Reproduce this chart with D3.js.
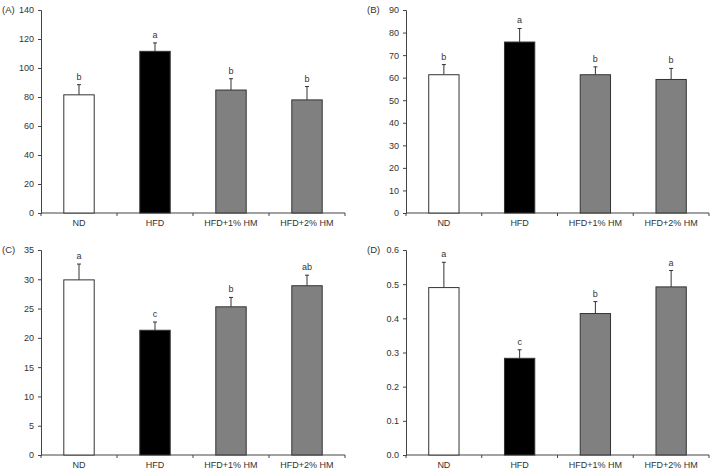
<!DOCTYPE html>
<html>
<head>
<meta charset="utf-8">
<script src="https://cdn.jsdelivr.net/npm/d3@7"></script>
<style>
  body { margin: 0; background: #fff; }
  text { font-family: "Liberation Sans", Arial, sans-serif; fill: #333; }
</style>
</head>
<body>
<script>
var width = 714,
    height = 476;

// data
var groups = ["ND", "HFD", "HFD+1% HM", "HFD+2% HM"];
var fills = ["#ffffff", "#000000", "#808080", "#808080"];

var meanA = [81.5, 111.5, 84.8, 78],
    errA  = [7, 5.8, 7.8, 9.2],
    letA  = ["b", "a", "b", "b"];
var meanB = [61.3, 75.8, 61.3, 59.2],
    errB  = [4.5, 6, 3.5, 4.9],
    letB  = ["b", "a", "b", "b"];
var meanC = [29.9, 21.3, 25.3, 28.9],
    errC  = [2.7, 1.4, 1.6, 1.8],
    letC  = ["a", "c", "b", "ab"];
var meanD = [0.49, 0.283, 0.414, 0.492],
    errD  = [0.074, 0.025, 0.035, 0.048],
    letD  = ["a", "c", "b", "a"];

var panels = [
  {label: "(A)", mean: meanA, err: errA, letters: letA, max: 140, step: 20, fmt: "d",
   left: 41, right: 345, top: 10, bottom: 213},
  {label: "(B)", mean: meanB, err: errB, letters: letB, max: 90, step: 10, fmt: "d",
   left: 406, right: 709, top: 10, bottom: 213},
  {label: "(C)", mean: meanC, err: errC, letters: letC, max: 35, step: 5, fmt: "d",
   left: 41, right: 345, top: 250, bottom: 455},
  {label: "(D)", mean: meanD, err: errD, letters: letD, max: 0.6, step: 0.1, fmt: ".1f",
   left: 406, right: 709, top: 250, bottom: 455}
];

var svg = d3.select("body").append("svg")
    .attr("width", width)
    .attr("height", height);

panels.forEach(function(p) {
  var g = svg.append("g");

  var x = d3.scaleBand()
      .domain(groups)
      .range([p.left, p.right])
      .paddingInner(0.6)
      .paddingOuter(0.3);

  var y = d3.scaleLinear()
      .domain([0, p.max])
      .range([p.bottom, p.top]);

  var ticks = d3.range(0, p.max + p.step / 2, p.step);

  // y axis
  var yAxis = g.append("g")
      .attr("transform", "translate(" + p.left + ",0)")
      .call(d3.axisLeft(y).tickValues(ticks).tickFormat(d3.format(p.fmt))
            .tickSizeOuter(0).tickSize(3).tickPadding(4));
  yAxis.select(".domain").attr("stroke", "#444");
  yAxis.selectAll("line").attr("stroke", "#444");
  yAxis.selectAll("text").style("font-size", "9px").attr("fill", "#333");

  // x axis: boundary ticks between categories
  var step = x.step();
  g.append("line")
      .attr("x1", p.left).attr("x2", p.right)
      .attr("y1", p.bottom).attr("y2", p.bottom)
      .attr("stroke", "#444");
  g.selectAll("line.xtick")
    .data(d3.range(groups.length + 1))
    .enter().append("line")
      .attr("class", "xtick")
      .attr("x1", function(i) { return p.left + i * step; })
      .attr("x2", function(i) { return p.left + i * step; })
      .attr("y1", p.bottom).attr("y2", p.bottom + 3)
      .attr("stroke", "#444");
  g.selectAll("text.xlab")
    .data(groups)
    .enter().append("text")
      .attr("class", "xlab")
      .attr("x", function(d) { return x(d) + x.bandwidth() / 2; })
      .attr("y", p.bottom + 13)
      .attr("text-anchor", "middle")
      .attr("fill", "#333")
      .style("font-size", "9px")
      .text(function(d) { return d; });

  // error bars (upper only)
  g.selectAll("line.err")
    .data(groups)
    .enter().append("line")
      .attr("class", "err")
      .attr("x1", function(d) { return x(d) + x.bandwidth() / 2; })
      .attr("x2", function(d) { return x(d) + x.bandwidth() / 2; })
      .attr("y1", function(d, i) { return y(p.mean[i]); })
      .attr("y2", function(d, i) { return y(p.mean[i] + p.err[i]); })
      .attr("stroke", "#333");
  g.selectAll("line.cap")
    .data(groups)
    .enter().append("line")
      .attr("class", "cap")
      .attr("x1", function(d) { return x(d) + x.bandwidth() / 2 - 2; })
      .attr("x2", function(d) { return x(d) + x.bandwidth() / 2 + 2; })
      .attr("y1", function(d, i) { return y(p.mean[i] + p.err[i]); })
      .attr("y2", function(d, i) { return y(p.mean[i] + p.err[i]); })
      .attr("stroke", "#333");

  // bars
  g.selectAll("rect.bar")
    .data(groups)
    .enter().append("rect")
      .attr("class", "bar")
      .attr("x", function(d) { return x(d); })
      .attr("width", x.bandwidth())
      .attr("y", function(d, i) { return y(p.mean[i]); })
      .attr("height", function(d, i) { return p.bottom - y(p.mean[i]); })
      .attr("fill", function(d, i) { return fills[i]; })
      .attr("stroke", "#333")
      .attr("stroke-width", 1);

  // significance letters
  g.selectAll("text.sig")
    .data(groups)
    .enter().append("text")
      .attr("class", "sig")
      .attr("x", function(d) { return x(d) + x.bandwidth() / 2; })
      .attr("y", function(d, i) { return y(p.mean[i] + p.err[i]) - 5; })
      .attr("text-anchor", "middle")
      .attr("fill", "#333")
      .style("font-size", "9px")
      .text(function(d, i) { return p.letters[i]; });

  // panel label
  g.append("text")
      .attr("x", p.left - 39)
      .attr("y", p.top + 3)
      .attr("fill", "#333")
      .style("font-size", "9.5px")
      .text(p.label);
});
</script>
</body>
</html>
